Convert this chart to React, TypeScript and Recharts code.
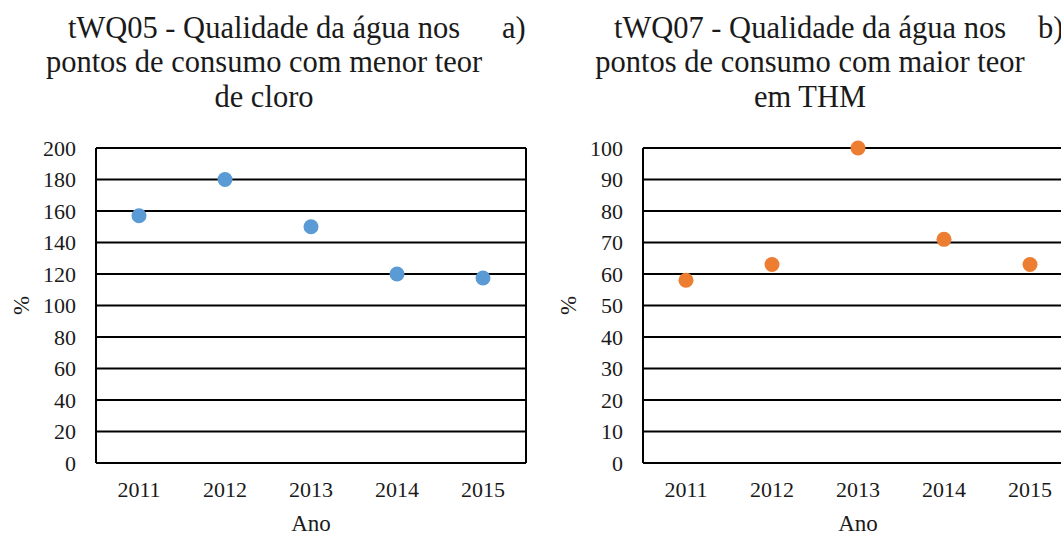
import { CartesianGrid, ComposedChart, Line, XAxis, YAxis } from "recharts";

const years = ["2011", "2012", "2013", "2014", "2015"];
const chlorineLow = [157, 180, 150, 120, 117.5];
const thmHigh = [58, 63, 100, 71, 63];
const ticksA = [0, 20, 40, 60, 80, 100, 120, 140, 160, 180, 200];
const ticksB = [0, 10, 20, 30, 40, 50, 60, 70, 80, 90, 100];

const titleA = ["tWQ05 - Qualidade da água nos", "pontos de consumo com menor teor", "de cloro"];
const titleB = ["tWQ07 - Qualidade da água nos", "pontos de consumo com maior teor", "em THM"];

const FONT = '"Liberation Serif", "Times New Roman", serif';
const TEXT = "#1a1a1a";

type PanelProps = {
  values: number[];
  ticks: number[];
  color: string;
  title: string[];
  tag: string;
  left: number;
  titleCenter: number;
  tagLeft: number;
};

// rotated "%" centred on the y axis area
function PercentLabel({ viewBox }: any) {
  const x = viewBox.x + 21;
  const y = viewBox.y + viewBox.height / 2;
  return (
    <text
      x={x}
      y={y}
      dy="0.355em"
      textAnchor="middle"
      transform={`rotate(-90, ${x}, ${y})`}
      style={{ fontFamily: FONT, fontSize: 23, fill: TEXT }}
    >
      %
    </text>
  );
}

function Panel({ values, ticks, color, title, tag, left, titleCenter, tagLeft }: PanelProps) {
  const data = years.map((year, i) => ({ year, value: values[i] }));
  const max = ticks[ticks.length - 1];
  return (
    <div style={{ position: "absolute", left, top: 0, width: 547, height: 534 }}>
      <div
        style={{
          position: "absolute",
          left: titleCenter - 260,
          top: 10.5,
          width: 520,
          textAlign: "center",
          fontFamily: FONT,
          fontSize: 30.5,
          lineHeight: "34.5px",
          color: TEXT,
          whiteSpace: "nowrap",
        }}
      >
        {title.map((t) => (
          <div key={t}>{t}</div>
        ))}
      </div>
      <div
        style={{
          position: "absolute",
          left: tagLeft,
          top: 10.5,
          fontFamily: FONT,
          fontSize: 30.5,
          lineHeight: "34.5px",
          color: TEXT,
          whiteSpace: "nowrap",
        }}
      >
        {tag}
      </div>
      <ComposedChart width={547} height={534} data={data} margin={{ top: 148, right: 21, bottom: 0, left: 0 }}>
        <CartesianGrid
          stroke="#000"
          strokeWidth={2}
          verticalCoordinatesGenerator={({ offset }: any) => [offset.left, offset.left + offset.width]}
        />
        <XAxis
          dataKey="year"
          scale="point"
          padding={{ left: 43, right: 43 }}
          height={71}
          axisLine={{ stroke: "#000", strokeWidth: 2 }}
          tickLine={false}
          tickSize={6}
          tickMargin={12}
          tick={{ fontFamily: FONT, fontSize: 22, fill: TEXT }}
          label={{ value: "Ano", position: "insideBottom", offset: 3, style: { fontFamily: FONT, fontSize: 23, fill: TEXT } }}
        />
        <YAxis
          width={96}
          domain={[0, max]}
          ticks={ticks}
          interval={0}
          axisLine={{ stroke: "#000", strokeWidth: 2 }}
          tickLine={false}
          tickSize={6}
          tickMargin={14}
          tick={{ fontFamily: FONT, fontSize: 22, fill: TEXT }}
          label={<PercentLabel />}
        />
        <Line
          dataKey="value"
          stroke="none"
          dot={{ r: 7.5, fill: color, stroke: "none" }}
          activeDot={false}
          isAnimationActive={false}
        />
      </ComposedChart>
    </div>
  );
}

export default function App() {
  return (
    <div style={{ position: "absolute", left: 0, top: 0, width: 1061, height: 534, overflow: "hidden", background: "#fff" }}>
      <Panel values={chlorineLow} ticks={ticksA} color="#5B9BD5" title={titleA} tag="a)" left={0} titleCenter={264} tagLeft={502} />
      <Panel values={thmHigh} ticks={ticksB} color="#ED7D31" title={titleB} tag="b)" left={547} titleCenter={263} tagLeft={491} />
    </div>
  );
}
